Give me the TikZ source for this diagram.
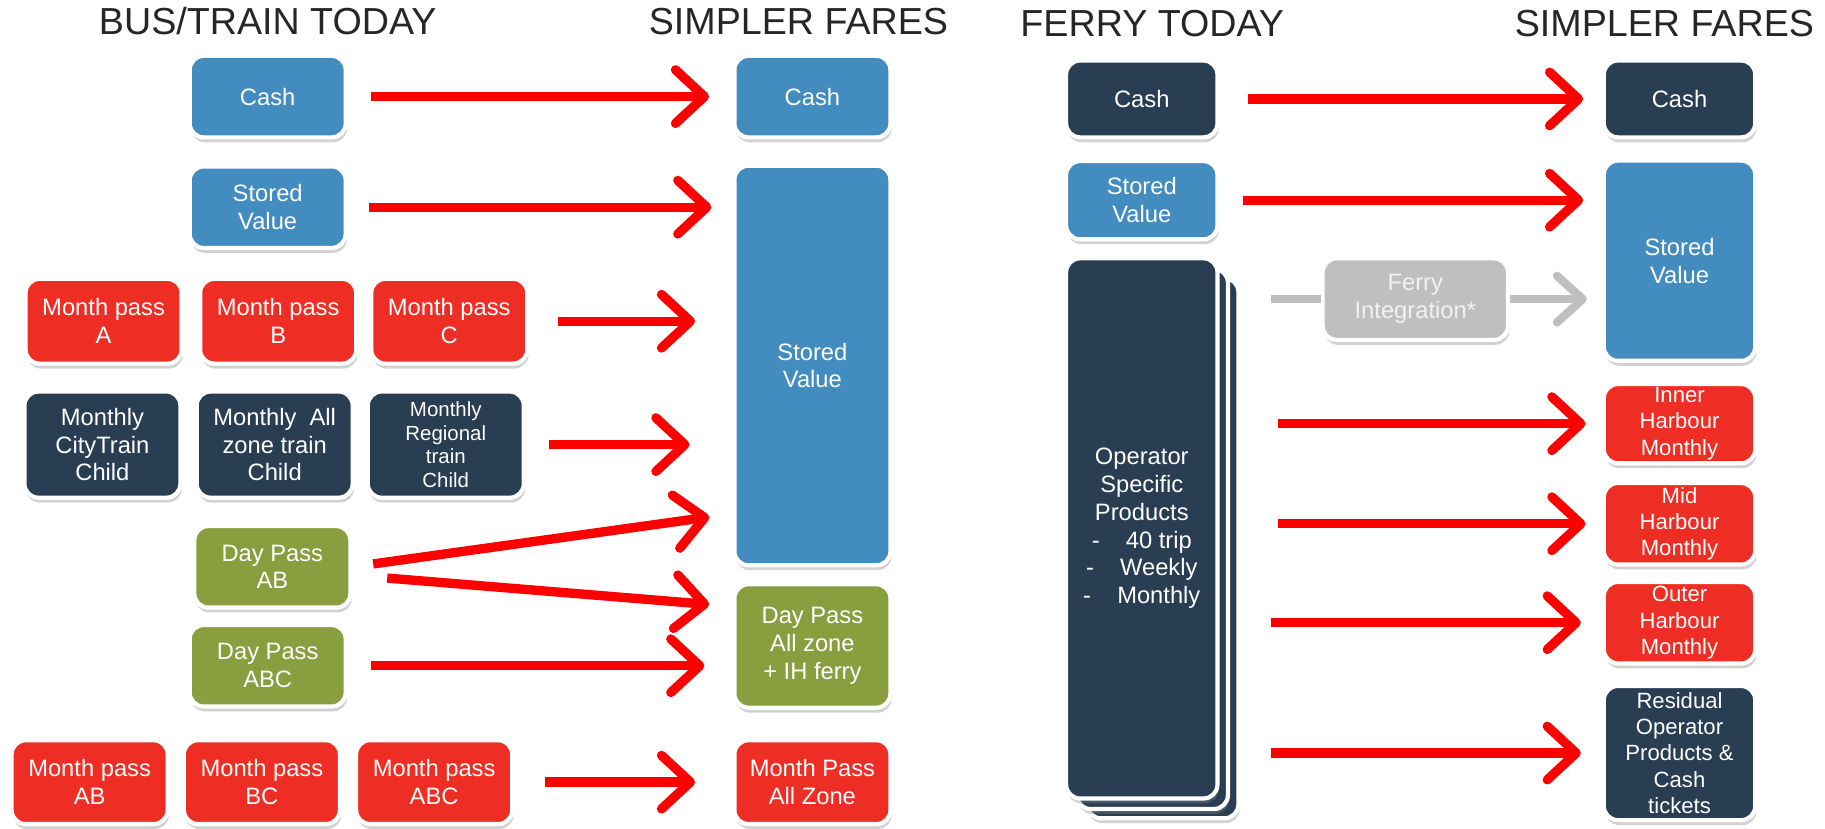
\documentclass[tikz,border=0pt]{standalone}
\usepackage{fontspec}
\setmainfont{Liberation Sans}
\usetikzlibrary{arrows.meta,shadows}

\definecolor{fareblue}{HTML}{428CC0}
\definecolor{farered}{HTML}{EE2D24}
\definecolor{farenavy}{HTML}{293D53}
\definecolor{fareolive}{HTML}{889E3F}
\definecolor{faregrey}{HTML}{BFBFBF}
\definecolor{arrowred}{HTML}{FF0000}

\begin{document}
\begin{tikzpicture}[x=0.025cm, y=-0.025cm,
  title/.style={anchor=base, font=\fontsize{23}{27}\selectfont, text=black!85},
  tile/.style={rectangle, rounded corners=0.3cm, draw=white, line width=0.09cm,
    text=white, align=center, inner sep=1pt, minimum width=3.35cm,
    minimum height=1.75cm, font=\fontsize{14.5}{17}\selectfont,
    drop shadow={shadow xshift=0.8pt, shadow yshift=-3pt, opacity=0.35}},
  bluetile/.style={tile, fill=fareblue},
  redtile/.style={tile, fill=farered},
  navytile/.style={tile, fill=farenavy},
  olivetile/.style={tile, fill=fareolive},
  greytile/.style={tile, fill=faregrey, text=white!95!black},
  ferry/.style={minimum width=3.25cm},
  small/.style={font=\fontsize{13.5}{16}\selectfont},
  redarrow/.style={draw=arrowred, line width=0.2cm,
    -{Straight Barb[round, length=0.62cm, width=1.15cm]}},
  greyarrow/.style={draw=faregrey, line width=0.18cm,
    -{Straight Barb[round, length=0.55cm, width=1.0cm]}}
]
\fill[white] (0,0) rectangle (1568,712);
\useasboundingbox (0,0) rectangle (1568,712);

% bus and train, today and simpler
\node[title] (busT) at (230,30) {BUS/TRAIN TODAY};
\node[title] (busS) at (686,30) {SIMPLER FARES};

\node[bluetile] (cash) at (230,83) {Cash};
\node[bluetile] (sv) at (230,178) {Stored\\Value};
\node[redtile, minimum height=1.82cm] (mpA) at (89,276) {Month pass\\A};
\node[redtile, minimum height=1.82cm] (mpB) at (239,276) {Month pass\\B};
\node[redtile, minimum height=1.82cm] (mpC) at (386,276) {Month pass\\C};
\node[navytile, minimum height=2.28cm] (mcA) at (88,382) {Monthly\\CityTrain\\Child};
\node[navytile, minimum height=2.28cm] (mcB) at (236,382) {Monthly\ \ All\\zone train\\Child};
\node[navytile, minimum height=2.28cm, font=\fontsize{12.5}{14.5}\selectfont] (mcC) at (383,382) {Monthly\\Regional\\train\\Child};
\node[olivetile] (dpAB) at (234,487) {Day Pass\\AB};
\node[olivetile] (dpABC) at (230,572) {Day Pass\\ABC};
\node[redtile, minimum height=1.8cm] (mpAB) at (77,672) {Month pass\\AB};
\node[redtile, minimum height=1.8cm] (mpBC) at (225,672) {Month pass\\BC};
\node[redtile, minimum height=1.8cm] (mpABC) at (373,672) {Month pass\\ABC};

\node[bluetile] (cashN) at (698,83) {Cash};
\node[bluetile, minimum height=8.58cm] (svN) at (698,314) {Stored\\Value};
\node[olivetile, minimum height=2.65cm] (dpAll) at (698,555) {Day Pass\\All zone\\+ IH ferry};
\node[redtile, minimum height=1.8cm] (mpAll) at (698,672) {Month Pass\\All Zone};

\draw[redarrow, shorten <=0.5cm, shorten >=0.5cm] (cash) -- (cashN);
\draw[redarrow, shorten <=0.45cm, shorten >=0.45cm] (sv.east) -- (sv.east -| svN.west);
\draw[redarrow, shorten <=0.62cm, shorten >=0.8cm] (mpC.east) -- (mpC.east -| svN.west);
\draw[redarrow, shorten <=0.5cm, shorten >=0.92cm] (mcC.east) -- (mcC.east -| svN.west);
\draw[redarrow, shorten <=0.45cm, shorten >=0.5cm] (dpAB.east) -- ([yshift=1.15cm]svN.south west);
\draw[redarrow, shorten <=0.75cm, shorten >=0.5cm] ([yshift=-0.18cm]dpAB.east) -- ([yshift=-0.52cm]dpAll.north west);
\draw[redarrow, shorten <=0.5cm, shorten >=0.6cm] (dpABC.east) -- (dpABC.east -| dpAll.west);
\draw[redarrow, shorten <=0.65cm, shorten >=0.8cm] (mpABC.east) -- (mpABC.east -| mpAll.west);

% ferry, today and simpler
\node[title] (ferT) at (990,31) {FERRY TODAY};
\node[title] (ferS) at (1430,31) {SIMPLER FARES};

\node[navytile, ferry, minimum height=1.65cm] (fCash) at (981,85) {Cash};
\node[bluetile, ferry, minimum height=1.68cm] (fSV) at (981,172) {Stored\\Value};
\node[navytile, ferry, minimum height=11.6cm] (ops3) at (999,471) {};
\node[navytile, ferry, minimum height=11.6cm] (ops2) at (990,463) {};
\node[navytile, ferry, minimum height=11.6cm] (ops) at (981,454)
  {Operator\\Specific\\Products\\-\hspace{1.1em}40 trip\\-\hspace{1.1em}Weekly\\-\hspace{1.1em}Monthly};
\node[greytile, minimum width=3.98cm] (fInt) at (1216,257) {Ferry\\Integration*};

\node[navytile, ferry, minimum height=1.65cm] (fCashN) at (1443,85) {Cash};
\node[bluetile, ferry, minimum height=4.3cm] (fSVN) at (1443,224) {Stored\\Value};
\node[redtile, ferry, small, minimum height=1.7cm] (fIn) at (1443,364) {Inner\\Harbour\\Monthly};
\node[redtile, ferry, small] (fMid) at (1443,450) {Mid\\Harbour\\Monthly};
\node[redtile, ferry, small] (fOut) at (1443,535) {Outer\\Harbour\\Monthly};
\node[navytile, ferry, small, minimum height=2.88cm] (fRes) at (1443,647) {Residual\\Operator\\Products \&\\Cash\\tickets};

\draw[redarrow, shorten <=0.6cm, shorten >=0.4cm] (fCash) -- (fCashN);
\draw[redarrow, shorten <=0.5cm, shorten >=0.4cm] (fSV.east) -- (fSV.east -| fSVN.west);
\draw[greyarrow, -, shorten <=0.65cm] (ops3.east |- fInt.west) -- (fInt.west);
\draw[greyarrow, shorten >=0.32cm] (fInt.east) -- (fInt.east -| fSVN.west);
\draw[redarrow, shorten <=0.8cm, shorten >=0.35cm] (ops3.east |- fIn.west) -- (fIn.west);
\draw[redarrow, shorten <=0.8cm, shorten >=0.35cm] (ops3.east |- fMid.west) -- (fMid.west);
\draw[redarrow, shorten <=0.65cm, shorten >=0.45cm] (ops3.east |- fOut.west) -- (fOut.west);
\draw[redarrow, shorten <=0.65cm, shorten >=0.45cm] (ops3.east |- fRes.west) -- (fRes.west);
\end{tikzpicture}
\end{document}
